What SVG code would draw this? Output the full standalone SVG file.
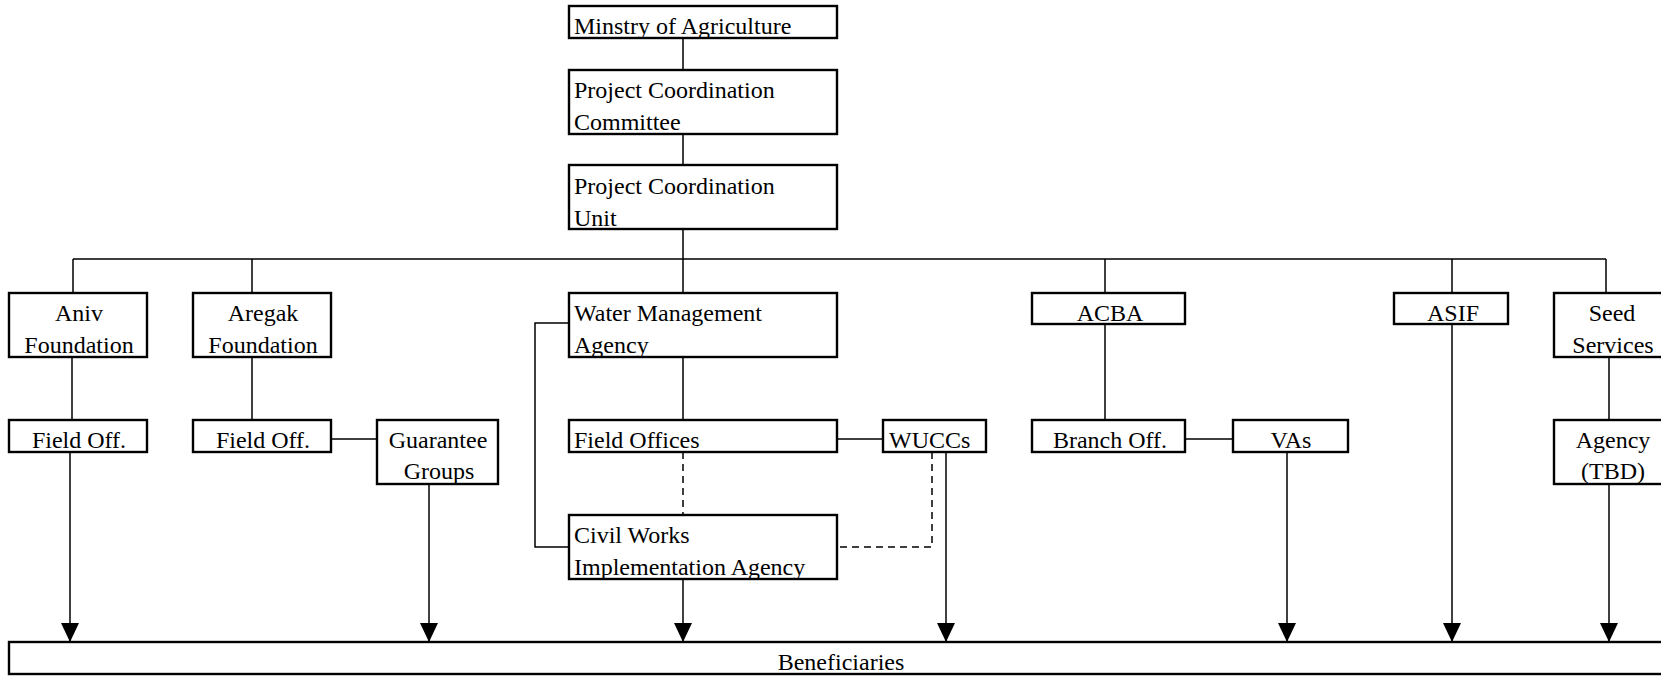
<svg xmlns="http://www.w3.org/2000/svg" width="1661" height="676" viewBox="0 0 1661 676">
<style>
.box{fill:#fff;stroke:#000;stroke-width:2.4}
.t{font-family:"Liberation Serif","Times New Roman",serif;font-size:24px;fill:#000}
.c{text-anchor:middle}
.ln{fill:none;stroke:#000;stroke-width:1.5}
.dash{fill:none;stroke:#000;stroke-width:1.5;stroke-dasharray:7,5}
.arr{fill:none;stroke:#000;stroke-width:1.5;marker-end:url(#ah)}
</style>
<defs>
<marker id="ah" markerUnits="userSpaceOnUse" markerWidth="20" markerHeight="20" refX="19" refY="9" orient="auto">
<path d="M0,0 L19,9 L0,18 Z" fill="#000"/>
</marker>
</defs>
<rect width="1661" height="676" fill="#fff"/>
<g id="connectors">
<path class="ln" d="M683,38 V70 M683,134 V165 M683,229 V259 M73,259 H1606"/>
<path class="ln" d="M73,259 V293 M252,259 V293 M683,259 V293 M1105,259 V293 M1452,259 V293 M1606,259 V293"/>
<path class="ln" d="M72,357 V420 M252,357 V420 M331,439 H377 M683,357 V420 M837,439 H883 M569,323 H535 V547 H569 M1105,324 V420 M1185,439 H1233 M1609,357 V420"/>
<path class="dash" d="M683,452 V515 M932,452 V547 H837"/>
<path class="arr" d="M70,452 V642"/>
<path class="arr" d="M429,484 V642"/>
<path class="arr" d="M683,579 V642"/>
<path class="arr" d="M946,452 V642"/>
<path class="arr" d="M1287,452 V642"/>
<path class="arr" d="M1452,324 V642"/>
<path class="arr" d="M1609,484 V642"/>
</g>
<g id="ministry"><rect class="box" x="569" y="6" width="268" height="32"/><text class="t" x="574" y="34">Minstry of Agriculture</text></g>
<g id="pcc"><rect class="box" x="569" y="70" width="268" height="64"/><text class="t" x="574" y="98">Project Coordination</text><text class="t" x="574" y="130">Committee</text></g>
<g id="pcu"><rect class="box" x="569" y="165" width="268" height="64"/><text class="t" x="574" y="194">Project Coordination</text><text class="t" x="574" y="226">Unit</text></g>
<g id="aniv"><rect class="box" x="9" y="293" width="138" height="64"/><text class="t c" x="79" y="321">Aniv</text><text class="t c" x="79" y="353">Foundation</text></g>
<g id="aregak"><rect class="box" x="193" y="293" width="138" height="64"/><text class="t c" x="263" y="321">Aregak</text><text class="t c" x="263" y="353">Foundation</text></g>
<g id="wma"><rect class="box" x="569" y="293" width="268" height="64"/><text class="t" x="574" y="321">Water Management</text><text class="t" x="574" y="353">Agency</text></g>
<g id="acba"><rect class="box" x="1032" y="293" width="153" height="31"/><text class="t c" x="1110" y="321">ACBA</text></g>
<g id="asif"><rect class="box" x="1394" y="293" width="114" height="31"/><text class="t c" x="1453" y="321">ASIF</text></g>
<g id="seed"><rect class="box" x="1554" y="293" width="116" height="64"/><text class="t c" x="1612" y="321">Seed</text><text class="t c" x="1613" y="353">Services</text></g>
<g id="fieldoff1"><rect class="box" x="9" y="420" width="138" height="32"/><text class="t c" x="79" y="448">Field Off.</text></g>
<g id="fieldoff2"><rect class="box" x="193" y="420" width="138" height="32"/><text class="t c" x="263" y="448">Field Off.</text></g>
<g id="guarantee"><rect class="box" x="377" y="420" width="121" height="64"/><text class="t c" x="438" y="448">Guarantee</text><text class="t c" x="439" y="479">Groups</text></g>
<g id="fieldoffices"><rect class="box" x="569" y="420" width="268" height="32"/><text class="t" x="574" y="448">Field Offices</text></g>
<g id="wuccs"><rect class="box" x="883" y="420" width="103" height="32"/><text class="t" x="889" y="448">WUCCs</text></g>
<g id="branch"><rect class="box" x="1032" y="420" width="153" height="32"/><text class="t c" x="1110" y="448">Branch Off.</text></g>
<g id="vas"><rect class="box" x="1233" y="420" width="115" height="32"/><text class="t c" x="1291" y="448">VAs</text></g>
<g id="agency"><rect class="box" x="1554" y="420" width="116" height="64"/><text class="t c" x="1613" y="448">Agency</text><text class="t c" x="1613" y="479">(TBD)</text></g>
<g id="cwia"><rect class="box" x="569" y="515" width="268" height="64"/><text class="t" x="574" y="543">Civil Works</text><text class="t" x="574" y="575">Implementation Agency</text></g>
<g id="beneficiaries"><rect class="box" x="9" y="642" width="1664" height="32"/><text class="t c" x="841" y="670">Beneficiaries</text></g>
</svg>
